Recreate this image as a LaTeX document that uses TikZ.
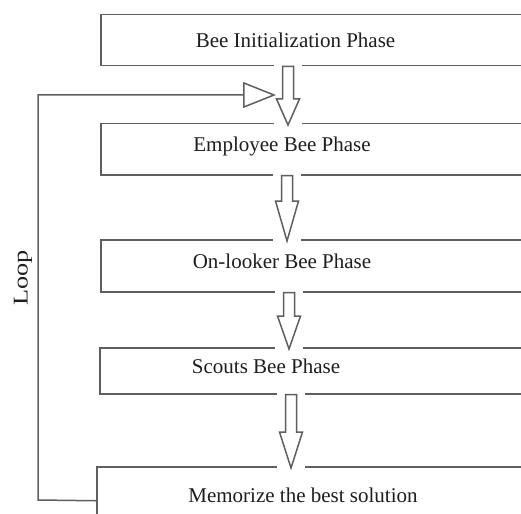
\documentclass[tikz,border=0pt]{standalone}
\usepackage{fontspec}
\setmainfont{Liberation Serif}
\usetikzlibrary{arrows.meta,calc}
\definecolor{linec}{RGB}{95,95,95}
\definecolor{txtc}{RGB}{30,30,30}
\tikzset{
  box/.style={draw=linec, line width=1.5pt, rectangle, anchor=north west, minimum width=440pt, inner sep=0pt},
  lbl/.style={anchor=base, text=txtc, font=\fontsize{21}{25}\selectfont, inner sep=0pt},
  blockarrow/.style={draw=linec, line width=1.5pt, fill=white, line join=miter},
  conn/.style={draw=linec, line width=1.5pt}
}
\newcommand{\flowarrow}[4]{%
  \coordinate (#1-top) at (#3,0 |- #1.south);
  \coordinate (#1-tip) at ($(#3,0 |- #2.north)+(0,2)$);
  \fill[white] ($(#1-top)+(-14,-3)$) rectangle ($(#1-top)+(14,3)$);
  \fill[white] ($(#1-tip)+(-14,-5)$) rectangle ($(#1-tip)+(14,1)$);
  \draw[blockarrow] let \p1=(#1-top), \p2=(#1-tip) in
    (\x1-5.5pt,\y1) -- (\x1-5.5pt,\y2+#4pt) -- (\x1-11.5pt,\y2+#4pt) -- (\x2,\y2)
    -- (\x1+11.5pt,\y2+#4pt) -- (\x1+5.5pt,\y2+#4pt) -- (\x1+5.5pt,\y1) -- cycle;
}
\begin{document}
\begin{tikzpicture}[x=1pt,y=-1pt]
\useasboundingbox (0,0) rectangle (521,513);
\fill[white] (0,0) rectangle (521,513);
\clip (0,0) rectangle (521,513);
% boxes
\node[box, minimum height=51pt] (b1) at (100,14) {};
\node[box, minimum height=51pt] (b2) at (100,123) {};
\node[box, minimum height=52pt] (b3) at (100,239) {};
\node[box, minimum height=46pt] (b4) at (99,347) {};
\node[box, minimum height=68pt] (b5) at (96,466) {};
% labels
\node[lbl] (t1) at (295.5,48) {Bee Initialization Phase};
\node[lbl] (t2) at (282,152) {Employee Bee Phase};
\node[lbl] (t3) at (282,268) {On-looker Bee Phase};
\node[lbl] (t4) at (266,373) {Scouts Bee Phase};
\node[lbl] (t5) at (303,502) {Memorize the best solution};
% loop
\coordinate (lb) at (38,500);
\coordinate (lt) at (38,95);
\coordinate (lh) at (276,95);
\draw[conn, -{Triangle[open,length=33pt,width=26pt]}] (b5.west) -- (lb) -- (lt) -- (lh);
\node[rotate=90, text=txtc, font=\fontsize{21}{25}\selectfont, inner sep=0pt] (loop) at (23,278) {\scalebox{1.25}[1]{Loop}};
% flow arrows
\flowarrow{b1}{b2}{288}{26}
\flowarrow{b2}{b3}{287}{40}
\flowarrow{b3}{b4}{289}{33}
\flowarrow{b4}{b5}{291}{36}
\end{tikzpicture}
\end{document}
